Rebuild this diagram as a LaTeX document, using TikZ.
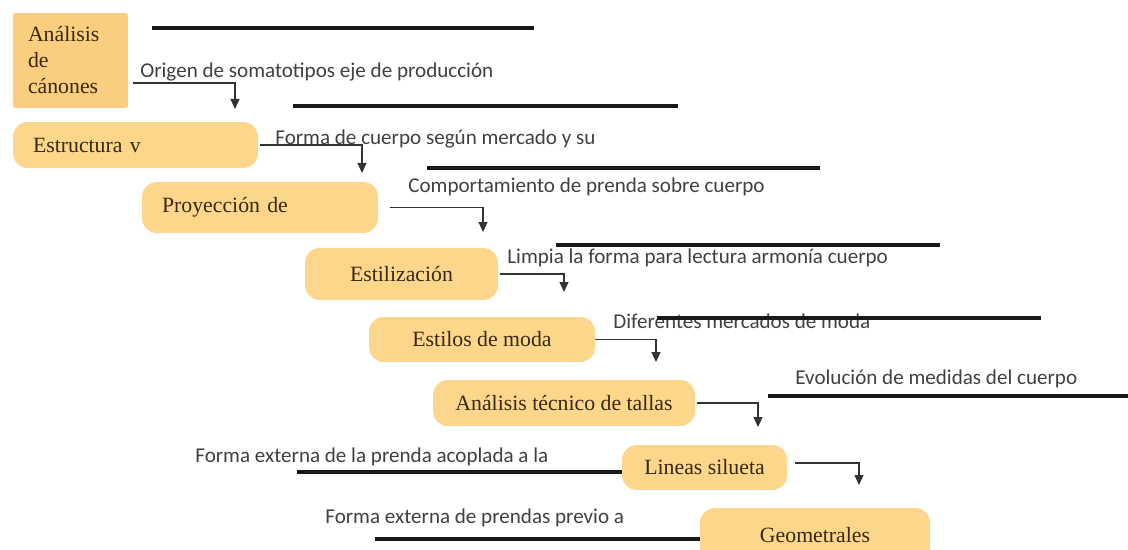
\documentclass[tikz,border=0pt]{standalone}
\usepackage{fontspec}
\setmainfont{Liberation Serif}
\newfontfamily\notefont{Carlito}
\usetikzlibrary{arrows.meta, positioning, calc}

\definecolor{boxfill}{RGB}{252,214,138}
\definecolor{boxfilldark}{RGB}{249,206,126}
\definecolor{boxtext}{RGB}{58,40,20}

\begin{document}
\begin{tikzpicture}[
  x=0.02cm, y=-0.02cm,
  stage/.style={fill=boxfill, rounded corners=0.3cm, inner sep=0pt, align=center,
    font=\fontsize{12.4}{14.8}\selectfont, text=boxtext},
  note/.style={anchor=west, inner sep=0pt, font=\notefont\fontsize{12}{14}\selectfont, text=black!75},
  conn/.style={-{Triangle[width=0.18cm,length=0.2cm]}, line width=0.6pt, draw=black!80},
  blankline/.style={line width=2pt, black!90}
]
  \useasboundingbox (0,0) rectangle (1128,550);

  % stages
  \node[stage, fill=boxfilldark, rounded corners=0.05cm, minimum height=1.9cm,
        text width=1.7cm, inner xsep=0.3cm, align=left] (b1) at (70.5,60.5) {Análisis\\de\\cánones};
  \node[stage, minimum height=0.92cm, text width=4.1cm, inner xsep=0.4cm, align=left] (b2) at (135.5,145) {Estructura v};
  \node[stage, minimum height=1.02cm, text width=3.92cm, inner xsep=0.4cm, align=left] (b3) at (260,207.5) {Proyección de};
  \node[stage, minimum width=3.86cm, minimum height=1.04cm] (b4) at (401.5,274) {Estilización};
  \node[stage, minimum width=4.52cm, minimum height=0.9cm] (b5) at (482,339.5) {Estilos de moda};
  \node[stage, minimum width=5.24cm, minimum height=0.92cm] (b6) at (564,403) {Análisis técnico de tallas};
  \node[stage, minimum width=3.3cm, minimum height=0.9cm] (b7) at (704.5,467.5) {Lineas silueta};
  \node[stage, minimum width=4.6cm, minimum height=1.08cm] (b8) at (815,535) {Geometrales};

  % notes
  \node[note] (n1) at (140,72) {Origen de somatotipos eje de producción};
  \node[note] (n2) at (275,139) {Forma de cuerpo según mercado y su};
  \node[note] (n3) at (408,187) {Comportamiento de prenda sobre cuerpo};
  \node[note] (n4) at (507,258) {Limpia la forma para lectura armonía cuerpo};
  \node[note] (n5) at (613,321) {Diferentes mercados de moda};
  \node[note] (n6) at (795,379) {Evolución de medidas del cuerpo};
  \node[note] (n7) at (195,457) {Forma externa de la prenda acoplada a la};
  \node[note] (n8) at (325,518) {Forma externa de prendas previo a};

  % blank lines
  \draw[blankline] (152,28) -- (534,28);
  \draw[blankline] (293,106) -- (678,106);
  \draw[blankline] (427,168) -- (820,168);
  \draw[blankline] (556,245) -- (940,245);
  \draw[blankline] (657,318) -- (1041,318);
  \draw[blankline] (768,396) -- (1128,396);
  \draw[blankline] (297,472) -- (622,472);
  \draw[blankline] (375,539) -- (700,539);

  % arrow tips
  \coordinate (t1) at (235,109);
  \coordinate (t2) at (362,173);
  \coordinate (t3) at (483,232);
  \coordinate (t4) at (564,292);
  \coordinate (t5) at (656,362);
  \coordinate (t6) at (758,427);
  \coordinate (t7) at (859,485);

  \draw[conn] ([xshift=0.1cm,yshift=-0.45cm]b1.east) -| (t1);
  \draw[conn] ([xshift=0.04cm]b2.east) -| (t2);
  \draw[conn] ([xshift=0.24cm]b3.east) -| (t3);
  \draw[conn] ([xshift=0.04cm]b4.east) -| (t4);
  \draw[conn] (b5.east) -| (t5);
  \draw[conn] ([xshift=0.04cm]b6.east) -| (t6);
  \draw[conn] ([xshift=0.16cm,yshift=0.09cm]b7.east) -| (t7);
\end{tikzpicture}
\end{document}
